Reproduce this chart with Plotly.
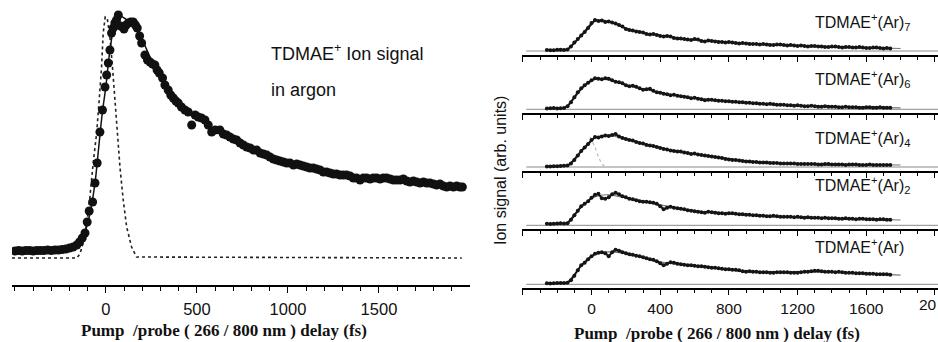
import plotly.graph_objects as go

# ---------------- data (left panel: heights above pulse baseline) ----------------
left_delay = [-500, -480, -460, -440, -420, -400, -380, -360, -340, -320, -300, -280, -260, -240, -220,
              -200, -180, -160, -145, -130, -115, -103, -92, -73, -60, -48, -33, -19, -5, 4, 13, 22, 31,
              40, 49, 58, 68, 80, 99, 111, 123, 136, 150, 162, 172, 185, 196, 214, 228, 242, 256, 269,
              281, 293, 311, 324, 342, 356, 370, 384, 397, 415, 434, 452, 471, 490, 507, 525, 544, 562,
              581, 600, 626, 645, 663, 681, 700, 718, 737, 755, 773, 792, 810, 828, 847, 865, 883, 901,
              920, 938, 956, 975, 993, 1011, 1030, 1048, 1066, 1084, 1103, 1121, 1139, 1157, 1176, 1194,
              1212, 1231, 1249, 1267, 1286, 1304, 1322, 1341, 1359, 1377, 1396, 1414, 1432, 1451, 1469,
              1487, 1506, 1524, 1542, 1561, 1579, 1597, 1616, 1634, 1652, 1670, 1689, 1707, 1725, 1744,
              1762, 1780, 1799, 1817, 1835, 1854, 1872, 1890, 1909, 1927, 1945, 1958]
left_signal = [7, 7.5, 7, 7.5, 7.5, 7, 7.5, 7.5, 7.5, 8, 7.5, 8, 8, 8.5, 9,
               10, 11, 13, 16, 20, 25, 36, 47, 56, 75, 95, 126, 148, 171, 183, 195, 208, 225,
               230, 235, 238, 243, 232, 229, 233, 235, 236, 236, 233, 230, 222, 215, 203, 198, 196, 194, 193,
               188, 185, 180, 173, 168, 163, 160, 157, 155, 151, 148, 146, 133, 143, 141, 140, 138, 133,
               126, 128, 128, 124, 123, 121, 119, 118, 115, 113, 111, 110, 108, 108, 105, 104, 103, 101,
               99, 98, 97, 96, 95, 95, 93, 94, 93, 92, 91, 90, 90, 89, 88, 86,
               86, 85, 84, 84, 83, 83, 83, 82, 80, 80, 78, 80, 80, 79, 80,
               80, 79, 80, 80, 79, 78, 78, 78, 79, 77, 76, 77, 76, 75, 76,
               75, 75, 74, 73, 74, 72, 71, 72, 71, 72, 71, 71]
left_fit_delay = [-500, -300, -200, -150, -120, -100, -80, -60, -40, -20, 0, 20, 40, 60, 80, 100, 150,
                  200, 250, 300, 400, 500, 600, 800, 1000, 1200, 1400, 1600, 1800, 1960]
left_fit = [7, 8, 10, 15, 24, 35, 52, 75, 110, 145, 172, 205, 228, 240, 242, 240, 233,
            218, 198, 184, 157, 141, 128, 109, 95, 86, 80, 78, 74, 71]
pulse_delay = [-516, -160, -143, -125, -103, -88, -70, -51, -37, -24, -15, -4, 7, 22, 36, 49, 62, 77,
               95, 114, 141, 168, 1955]
pulse = [0, 0, 4, 15, 38, 61, 95, 125, 158, 191, 225, 241, 240, 221, 191, 158, 125, 91,
         58, 31, 11, 1, 0]
left_ticks = [0, 500, 1000, 1500]
left_minor = [-500, -400, -300, -200, -100, 100, 200, 300, 400, 600, 700, 800, 900, 1100, 1200, 1300,
              1400, 1600, 1700, 1800, 1900]

# ---------------- data (right panels: heights above each baseline) ----------------
right_delay = [-260, -240, -220, -200, -180, -160, -140, -120, -100, -80,
               -60, -40, -20, 0, 20, 40, 60, 80, 100, 120,
               140, 160, 180, 200, 220, 240, 260, 280, 300, 320,
               340, 360, 380, 400, 420, 440, 460, 480, 500, 520,
               540, 560, 580, 600, 620, 640, 660, 680, 700, 720,
               740, 760, 780, 800, 820, 840, 860, 880, 900, 920,
               940, 960, 980, 1000, 1020, 1040, 1060, 1080, 1100, 1120,
               1140, 1160, 1180, 1200, 1220, 1240, 1260, 1280, 1300, 1320,
               1340, 1360, 1380, 1400, 1420, 1440, 1460, 1480, 1500, 1520,
               1540, 1560, 1580, 1600, 1620, 1640, 1660, 1680, 1700, 1720,
               1740]
ar7 = [1.0, 0.8, 0.8, 1.3, 1.2, 1.0, 1.5, 4.5, 8.5, 12,
       15.5, 19, 23, 28, 31, 30, 30.5, 29, 29.5, 28.5,
       27.5, 26, 24.5, 22, 21, 20.5, 19.5, 19, 18.5, 17,
       16.5, 17, 16, 15, 14.5, 15, 14.5, 13, 12.5, 12.5,
       12, 11.5, 11, 12, 11.5, 10, 9.5, 10.5, 10, 9.5,
       9, 9, 8.5, 9, 8.5, 8, 7.5, 8, 7.5, 7,
       7, 7, 6.5, 7, 6.5, 6, 6, 6.5, 6.5, 6,
       5.5, 6, 5.5, 5, 5.5, 5, 4.5, 5, 5, 4.5,
       4.5, 4, 4, 4.5, 4.5, 4, 3.5, 4, 4, 3.5,
       3.5, 4, 3.5, 3, 3, 3.5, 3.5, 3, 2.5, 3,
       2.5]
ar6 = [0.8, 1.0, 1.2, 0.9, 1.0, 1.4, 3, 7, 12, 17,
       21, 24, 26.5, 29, 31, 30.5, 30, 31, 30.5, 29,
       27.5, 27, 26, 24, 23, 23.5, 22.5, 21, 19.5, 20,
       20.5, 18.5, 17, 16.5, 15.5, 15, 14, 14.5, 13.5, 13,
       12.5, 12, 11, 11.5, 10.5, 10, 9, 9.5, 9.5, 9,
       8.5, 8.5, 8, 8, 7.5, 7.5, 7, 7, 6.5, 6.5,
       6, 6, 5.5, 5.5, 5, 5.5, 5, 4.5, 4.5, 4.5,
       4, 4, 3.5, 4, 3.5, 3, 3, 3.5, 3, 2.5,
       2.5, 3, 2.5, 2.5, 2.5, 2, 2, 2.5, 2, 2,
       2, 1.5, 1.5, 2, 2, 1.5, 1.5, 2, 1.5, 1.5,
       1.5]
ar4 = [0.5, 0.6, 0.8, 0.7, 1.0, 1.2, 1.5, 3.5, 7, 11.5,
       16, 19.5, 23, 27, 30, 29.5, 30.5, 31.5, 31, 32,
       33, 30.5, 29, 28, 27, 26.5, 25, 24, 23.5, 22,
       21.5, 21, 20, 19, 18, 17.5, 16.5, 16, 15.5, 15.5,
       14.5, 14, 13, 13.5, 12.5, 12, 11.5, 11, 10.5, 10,
       9.5, 9, 8, 7.5, 7, 7, 6.5, 6, 5.5, 5.5,
       5, 5, 4.5, 4.5, 4.5, 4, 4, 4, 3.5, 3.5,
       3.5, 3.5, 3.5, 3, 3, 3, 3, 3, 3, 2.5,
       2.5, 3, 3, 2.5, 2.5, 2.5, 2.5, 2, 2.5, 2.5,
       2.5, 2, 2, 2, 2.5, 2, 2, 2, 2, 2,
       2]
ar2 = [1.5, 1.3, 1.5, 1.8, 2, 1.8, 2, 5.5, 10, 14.5,
       19, 21.5, 24, 27.5, 30.5, 31.5, 27, 26.5, 28, 31,
       32.5, 31, 29, 28, 26.5, 26, 25, 24, 23.5, 23.5,
       23, 22.5, 21.5, 19, 16, 17.5, 18.5, 17.5, 17, 16.5,
       16, 15, 14.5, 14, 13.5, 13, 12.5, 13.5, 13, 12.5,
       12, 12, 11.5, 12, 12, 11.5, 11, 11, 10.5, 10.5,
       10, 10, 9.5, 9.5, 9, 9, 9.5, 9, 8.5, 8.5,
       8.5, 8.5, 8, 8.5, 8, 7.5, 8, 7.5, 7.5, 7.5,
       7, 7.5, 7, 7, 7, 6.5, 6.5, 7, 6.5, 6.5,
       6, 6.5, 6.5, 6, 6, 6, 5.5, 6, 6, 5.5,
       5.5]
ar1 = [1, 0.8, 1, 1.2, 1.2, 1.3, 1.5, 4, 8.5, 14,
       19, 21.5, 25, 28, 30.5, 31.5, 32, 31, 28, 32,
       34.5, 33.5, 32, 31, 30, 29.5, 28.5, 28, 27, 26,
       25, 24.5, 23, 21, 19, 20.5, 22, 21.5, 20.5, 20,
       19.5, 19, 19, 18.5, 18, 18, 17.5, 17, 16.5, 16.5,
       16, 15.5, 15, 15, 14.5, 14.5, 14, 13, 12.5, 13,
       12.5, 12.5, 12, 12, 12, 11.5, 11.5, 12, 12, 12,
       12, 11.5, 11.5, 11.5, 12, 12.5, 12.5, 13, 13.5, 13.5,
       13, 12.5, 12.5, 12.5, 12, 12.5, 12, 11.5, 11.5, 11.5,
       11, 11, 11, 10.5, 10.5, 10.5, 10, 10, 10, 10,
       9.5]
right_fit_delay = [-260, -150, -100, -50, 0, 50, 100, 200, 300, 400, 600, 800, 1000, 1200, 1400, 1600, 1800]
ar7_fit = [1, 1, 8, 18, 28, 31, 29.5, 23, 18.5, 15.5, 11, 8.5, 6.7, 5.5, 4.3, 3.4, 2.5]
ar6_fit = [1, 1.5, 11, 22, 29, 30.5, 29.5, 24.5, 20.5, 16.5, 11.5, 8, 5.5, 3.8, 2.7, 2, 1.5]
ar4_fit = [0.5, 1, 8, 18, 27, 31, 31.5, 28, 23.5, 19, 13, 8, 4.8, 3.3, 2.8, 2.3, 2]
ar2_fit = [1.5, 2, 11, 20, 27, 30, 30.5, 27.5, 24, 20.5, 14.5, 12, 9.5, 8, 7, 6.2, 5.3]
ar1_fit = [1, 1.5, 10, 21, 28.5, 31.5, 32.5, 31, 27, 22.5, 18.5, 15, 12.5, 12, 12.3, 11, 9.2]
ar4_pulse_delay = [-9, 20, 40, 60, 80]
ar4_pulse = [30, 20, 10, 3, 0]
baseline_span = [-380, 2020]
right_ticks = [-400, 0, 400, 800, 1200, 1600, 2000]
right_ticktext = ["", "0", "400", "800", "1200", "1600", ""]
right_edge_label = "20"   # the "2000" label is cut by the figure's right edge in the original
right_minor = [-300, -200, -100, 100, 200, 300, 500, 600, 700, 900, 1000, 1100, 1300, 1400, 1500,
               1700, 1800, 1900]
panel_labels = ["TDMAE<sup>+</sup>(Ar)<sub>7</sub>", "TDMAE<sup>+</sup>(Ar)<sub>6</sub>",
                "TDMAE<sup>+</sup>(Ar)<sub>4</sub>", "TDMAE<sup>+</sup>(Ar)<sub>2</sub>",
                "TDMAE<sup>+</sup>(Ar)"]
panel_series = [ar7, ar6, ar4, ar2, ar1]
panel_fits = [ar7_fit, ar6_fit, ar4_fit, ar2_fit, ar1_fit]

# ---------------- layout constants ----------------
W, H = 938, 342
SANS = "Liberation Sans, Arial, sans-serif"
SERIF = "Liberation Serif, Times New Roman, serif"
axis_px = [55, 113.3, 171, 229.3, 288.3]      # pixel row of each right-panel axis line
label_px = [22, 79, 138, 185, 246.5]          # pixel row of each right-panel label

fig = go.Figure()

# left panel
fig.add_trace(go.Scatter(x=pulse_delay, y=pulse, mode="lines", xaxis="x", yaxis="y",
                         line=dict(color="#222", width=1.6, dash="dot"), showlegend=False))
fig.add_trace(go.Scatter(x=left_fit_delay, y=left_fit, mode="lines", xaxis="x", yaxis="y",
                         line=dict(color="#111", width=1.5, shape="spline"), showlegend=False))
fig.add_trace(go.Scatter(x=left_delay, y=left_signal, mode="markers", xaxis="x", yaxis="y",
                         marker=dict(color="#111", size=9), showlegend=False))

# right panels
for i in range(5):
    xa = "x%d" % (i + 2)
    ya = "y%d" % (i + 2)
    fig.add_trace(go.Scatter(x=baseline_span, y=[0, 0], mode="lines", xaxis=xa, yaxis=ya,
                             line=dict(color="#8a8a8a", width=1), showlegend=False))
    if i == 2:
        fig.add_trace(go.Scatter(x=ar4_pulse_delay, y=ar4_pulse, mode="lines", xaxis=xa, yaxis=ya,
                                 line=dict(color="#bbb", width=1.2, dash="dot"), showlegend=False))
    fig.add_trace(go.Scatter(x=right_fit_delay, y=panel_fits[i], mode="lines", xaxis=xa, yaxis=ya,
                             line=dict(color="#777", width=1.2, shape="spline"), showlegend=False))
    fig.add_trace(go.Scatter(x=right_delay, y=panel_series[i], mode="lines+markers", xaxis=xa, yaxis=ya,
                             line=dict(color="#151515", width=2),
                             marker=dict(color="#151515", size=4), showlegend=False))

layout = dict(
    width=W, height=H, margin=dict(l=0, r=0, t=0, b=0),
    paper_bgcolor="white", plot_bgcolor="white",
    xaxis=dict(domain=[12 / W, 470 / W], range=[-516, 2000], anchor="y",
               showline=True, linecolor="black", linewidth=1.5, showgrid=False, zeroline=False,
               tickmode="array", tickvals=left_ticks, ticks="outside", ticklen=6, tickwidth=1.2,
               tickcolor="black", ticklabelstandoff=2,
               tickfont=dict(family=SANS, size=16.5, color="#111"),
               minor=dict(tickmode="array", tickvals=left_minor, ticks="outside", ticklen=4,
                          tickwidth=1, tickcolor="black")),
    yaxis=dict(domain=[(H - 285) / H, (H - 5) / H], range=[-27, 253], visible=False, anchor="x"),
)
for i in range(5):
    n = i + 2
    bottom = (H - axis_px[i]) / H
    top = min(1.0, (H - axis_px[i] + 54) / H)
    last = (i == 4)
    layout["xaxis%d" % n] = dict(
        domain=[522 / W, 1.0], range=[-405, 2018], anchor="y%d" % n,
        matches=None if i == 0 else "x2",
        showline=True, linecolor="black", linewidth=1.6, showgrid=False, zeroline=False,
        tickmode="array", tickvals=right_ticks, ticktext=right_ticktext,
        showticklabels=last, ticks="outside", ticklen=5, tickwidth=1.2, tickcolor="black",
        ticklabelstandoff=0,
        tickfont=dict(family=SANS, size=15.5, color="#111"),
        minor=dict(tickmode="array", tickvals=right_minor, ticks="outside", ticklen=3,
                   tickwidth=1, tickcolor="black"))
    layout["yaxis%d" % n] = dict(domain=[bottom, top], range=[-4, 50], visible=False,
                                 anchor="x%d" % n)

annotations = [
    dict(text="TDMAE<sup>+</sup> Ion signal", x=269 / W, y=1 - 53 / H, xref="paper", yref="paper",
         xanchor="left", yanchor="middle", showarrow=False, font=dict(family=SANS, size=18, color="#111")),
    dict(text="in argon", x=269 / W, y=1 - 90 / H, xref="paper", yref="paper",
         xanchor="left", yanchor="middle", showarrow=False, font=dict(family=SANS, size=18, color="#111")),
    dict(text="<b>Pump\u00a0 /probe ( 266 / 800 nm ) delay (fs)</b>", x=224 / W, y=1 - 330 / H,
         xref="paper", yref="paper", xanchor="center", yanchor="middle", showarrow=False,
         font=dict(family=SERIF, size=17, color="#111")),
    dict(text="<b>Pump\u00a0 /probe ( 266 / 800 nm ) delay (fs)</b>", x=717 / W, y=1 - 333 / H,
         xref="paper", yref="paper", xanchor="center", yanchor="middle", showarrow=False,
         font=dict(family=SERIF, size=17, color="#111")),
    dict(text="Ion signal (arb. units)", x=500 / W, y=1 - 171 / H, xref="paper", yref="paper",
         xanchor="center", yanchor="middle", textangle=-90, showarrow=False,
         font=dict(family=SANS, size=16, color="#111")),
    dict(text=right_edge_label, x=1.0, y=1 - 304 / H, xref="paper", yref="paper",
         xanchor="right", yanchor="middle", showarrow=False, borderpad=0,
         font=dict(family=SANS, size=15.5, color="#111")),
]
for i in range(5):
    annotations.append(dict(text=panel_labels[i], x=813 / W, y=1 - label_px[i] / H, xref="paper",
                            yref="paper", xanchor="left", yanchor="middle", showarrow=False,
                            font=dict(family=SANS, size=16, color="#111")))
layout["annotations"] = annotations
fig.update_layout(**layout)

fig.write_html("out.html")
